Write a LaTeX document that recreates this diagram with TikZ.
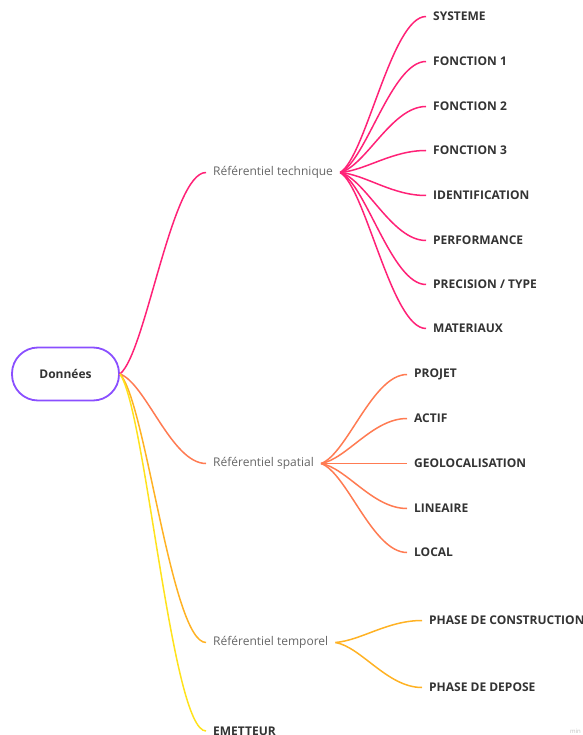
\documentclass[tikz,border=0pt]{standalone}
\usepackage{fontspec}
\setmainfont{Open Sans}
\usetikzlibrary{calc}

\definecolor{rootline}{HTML}{8A4FFF}
\definecolor{techc}{HTML}{FF2277}
\definecolor{spatc}{HTML}{FF7B52}
\definecolor{tempc}{HTML}{FFB224}
\definecolor{emetc}{HTML}{FFE21C}
\definecolor{leaftext}{HTML}{333333}
\definecolor{midtext}{HTML}{666666}

\tikzset{
  % smooth mind-map branch: leaves the start at an angle, arrives horizontally
  branch/.style={line width=1.5pt, to path={
    let \p1=(\tikztostart), \p2=(\tikztotarget) in
    .. controls ({\x1+0.3*(\x2-\x1)},{\y1+0.1*(\y2-\y1)})
             and ({\x1+0.6*(\x2-\x1)},{\y2}) .. (\tikztotarget)}},
  rootbox/.style={draw=rootline, line width=1.8pt, rounded corners=26pt,
    minimum width=107pt, minimum height=53pt, text=leaftext,
    font=\fontsize{12}{14}\selectfont\bfseries},
  midbox/.style={anchor=west, inner xsep=7pt, inner ysep=2pt, text=midtext,
    font=\fontsize{12}{14}\selectfont},
  leafbox/.style={anchor=west, inner xsep=7pt, inner ysep=2pt, text=leaftext,
    font=\fontsize{12}{14}\selectfont\bfseries},
}

\begin{document}
\begin{tikzpicture}[x=1pt,y=-1pt]
\useasboundingbox (0,0) rectangle (582,735);

% central topic
\node[rootbox] (root) at (65.5,374) {Données};

% main branches
\node[midbox] (tech) at (206,172.5) {Référentiel technique};
\node[midbox] (spat) at (206,463.5) {Référentiel spatial};
\node[midbox] (temp) at (206,642.5) {Référentiel temporel};
\node[leafbox] (emet) at (206,731) {EMETTEUR};

% technical leaves
\node[leafbox] (t1) at (426,16.5)  {SYSTEME};
\node[leafbox] (t2) at (426,61.5)  {FONCTION 1};
\node[leafbox] (t3) at (426,106.5) {FONCTION 2};
\node[leafbox] (t4) at (426,150.5) {FONCTION 3};
\node[leafbox] (t5) at (426,195.5) {IDENTIFICATION};
\node[leafbox] (t6) at (426,240.5) {PERFORMANCE};
\node[leafbox] (t7) at (426,284.5) {PRECISION / TYPE};
\node[leafbox] (t8) at (426,328.5) {MATERIAUX};

% spatial leaves
\node[leafbox] (s1) at (407,374.5) {PROJET};
\node[leafbox] (s2) at (407,418.5) {ACTIF};
\node[leafbox] (s3) at (407,463.5) {GEOLOCALISATION};
\node[leafbox] (s4) at (407,508.5) {LINEAIRE};
\node[leafbox] (s5) at (407,552.5) {LOCAL};

% temporal leaves
\node[leafbox] (p1) at (422,620.5) {PHASE DE CONSTRUCTION};
\node[leafbox] (p2) at (422,687.5) {PHASE DE DEPOSE};

% connectors from the central topic
\draw[branch, techc] (root.east) to (tech.west);
\draw[branch, spatc] (root.east) to (spat.west);
\draw[branch, tempc] (root.east) to (temp.west);
\draw[branch, emetc] (root.east) to (emet.west);

% connectors to the leaves
\foreach \leaf in {t1,t2,t3,t4,t5,t6,t7,t8}
  \draw[branch, techc] (tech.east) to (\leaf.west);
\foreach \leaf in {s1,s2,s3,s4,s5}
  \draw[branch, spatc] (spat.east) to (\leaf.west);
\foreach \leaf in {p1,p2}
  \draw[branch, tempc] (temp.east) to (\leaf.west);

% footer mark
\node[anchor=south east, inner sep=1pt, text=black!25,
  font=\fontsize{6}{7}\selectfont] (mark) at (582,735) {min};
\end{tikzpicture}
\end{document}
